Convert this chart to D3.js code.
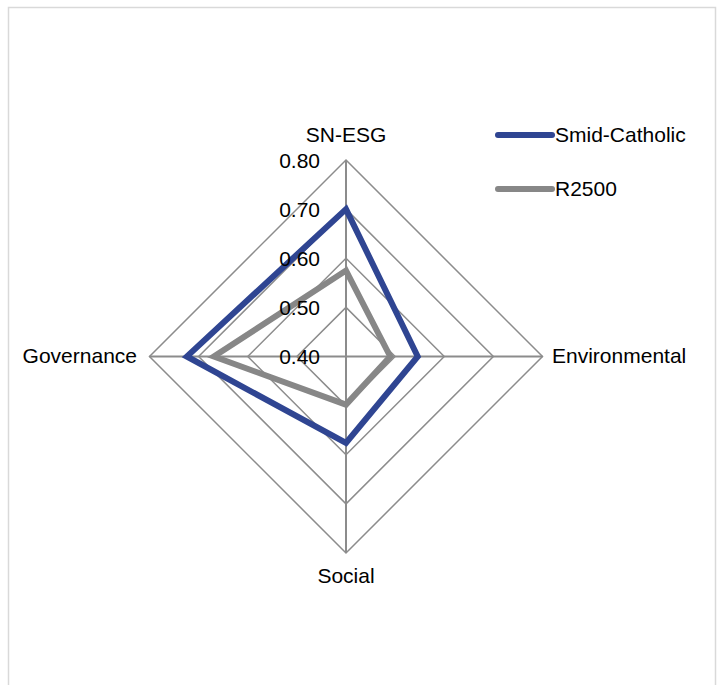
<!DOCTYPE html>
<html>
<head>
<meta charset="utf-8">
<script src="https://cdn.jsdelivr.net/npm/d3@7"></script>
<style>
  body { margin: 0; background: #fff; }
  text { font-family: "Liberation Sans", Arial, sans-serif; fill: #000; }
</style>
</head>
<body>
<script>
const axes = ['SN-ESG', 'Environmental', 'Social', 'Governance'];
const smidCatholic = [0.70, 0.546, 0.576, 0.724];
const r2500 = [0.575, 0.49, 0.498, 0.669];
const ticks = [0.40, 0.50, 0.60, 0.70, 0.80];
const seriesNames = ['Smid-Catholic', 'R2500'];
const seriesColors = ['#2f4592', '#878787'];

const width = 717, height = 685;
const cx = 346, cy = 356.5, radius = 196.5;

const svg = d3.select('body').append('svg')
  .attr('width', width)
  .attr('height', height);

// outer chart border
svg.append('rect')
  .attr('x', 8.5).attr('y', 7.5)
  .attr('width', 707).attr('height', 700)
  .attr('fill', 'none')
  .attr('stroke', '#d9d9d9')
  .attr('stroke-width', 1.5);

const r = d3.scaleLinear().domain([0.40, 0.80]).range([0, radius]);
const angle = i => i * 2 * Math.PI / axes.length;   // 0 = top, clockwise

const pt = (v, i) => [cx + r(v) * Math.sin(angle(i)), cy - r(v) * Math.cos(angle(i))];

const g = svg.append('g');

// rings
ticks.slice(1).forEach(t => {
  g.append('polygon')
    .attr('points', axes.map((a, i) => pt(t, i).join(',')).join(' '))
    .attr('fill', 'none')
    .attr('stroke', '#8c8c8c')
    .attr('stroke-width', 1.5);
});

// spokes
axes.forEach((a, i) => {
  const [x, y] = pt(0.80, i);
  g.append('line')
    .attr('x1', cx).attr('y1', cy)
    .attr('x2', x).attr('y2', y)
    .attr('stroke', '#8c8c8c')
    .attr('stroke-width', 2);
});

// series (gray under blue)
const line = d3.line().curve(d3.curveLinearClosed);
[r2500, smidCatholic].forEach((vals, k) => {
  g.append('path')
    .attr('d', line(vals.map((v, i) => pt(v, i))))
    .attr('fill', 'none')
    .attr('stroke', seriesColors[1 - k])
    .attr('stroke-width', 6)
    .attr('stroke-linejoin', 'miter');
});

// tick labels
ticks.forEach(t => {
  g.append('text')
    .attr('x', cx - 26)
    .attr('y', cy - r(t))
    .attr('dy', '0.36em')
    .attr('text-anchor', 'end')
    .style('font-size', '21px')
    .text(t.toFixed(2));
});

// axis labels
const labelPos = [
  { x: cx, y: 141.5, anchor: 'middle' },
  { x: 552, y: 363, anchor: 'start' },
  { x: cx, y: 583, anchor: 'middle' },
  { x: 137, y: 363, anchor: 'end' }
];
axes.forEach((a, i) => {
  g.append('text')
    .attr('x', labelPos[i].x)
    .attr('y', labelPos[i].y)
    .attr('text-anchor', labelPos[i].anchor)
    .style('font-size', '21px')
    .text(a);
});

// legend
const legend = svg.append('g');
seriesNames.forEach((name, i) => {
  const y = 135 + i * 54;
  legend.append('line')
    .attr('x1', 498).attr('x2', 552)
    .attr('y1', y).attr('y2', y)
    .attr('stroke', seriesColors[i])
    .attr('stroke-width', 6)
    .attr('stroke-linecap', 'round');
  legend.append('text')
    .attr('x', 555)
    .attr('y', y + 7)
    .style('font-size', '21px')
    .text(name);
});
</script>
</body>
</html>
